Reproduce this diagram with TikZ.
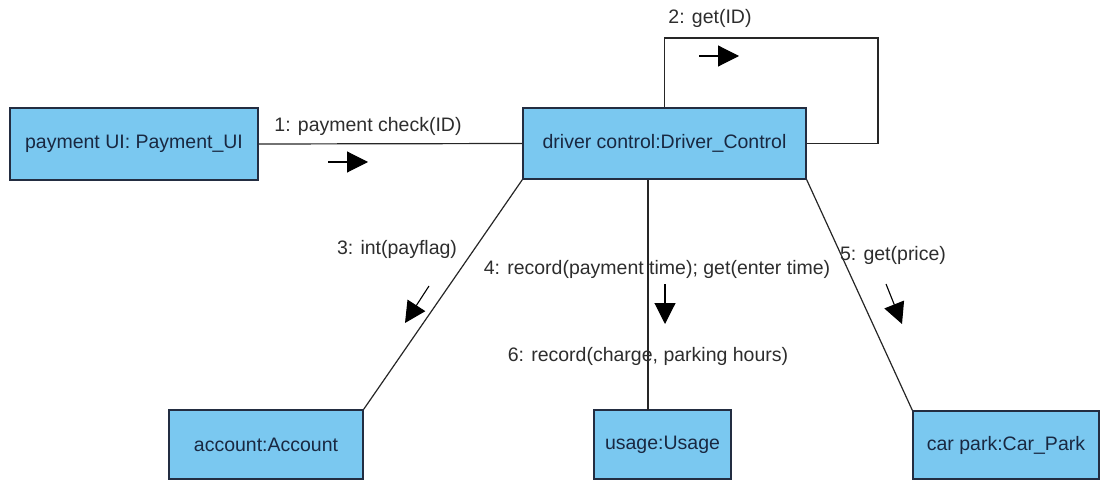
\documentclass[tikz,border=0pt]{standalone}
\usepackage{fontspec}
\setmainfont{Liberation Sans}
\usetikzlibrary{arrows.meta}
\definecolor{boxfill}{RGB}{122,200,240}
\definecolor{boxline}{RGB}{35,45,65}
\definecolor{boxtext}{RGB}{25,40,65}
\definecolor{labtext}{RGB}{45,45,45}
\tikzset{
  obj/.style={draw=boxline, line width=1.3pt, fill=boxfill, text=boxtext, inner sep=0pt,
    font=\fontsize{19.5}{23}\selectfont},
  link/.style={draw=black!85, line width=1.2pt},
  msg/.style={draw=black, line width=1.1pt, -{Triangle[length=21pt,width=21pt]}},
  lab/.style={text=labtext, inner sep=0pt, font=\fontsize{19.5}{23}\selectfont}
}
\begin{document}
\begin{tikzpicture}[x=1pt,y=-1pt]
\useasboundingbox (0,0) rectangle (1100,481);
% objects
\node[obj, minimum width=248pt, minimum height=72pt] (pay) at (134,144) {payment UI: Payment\_UI};
\node[obj, minimum width=283pt, minimum height=71pt] (drv) at (664.5,143.5) {driver control:Driver\_Control};
\node[obj, minimum width=194pt, minimum height=69pt] (acc) at (266,444.5) {account:Account};
\node[obj, minimum width=137pt, minimum height=69pt] (use) at (662.5,444.5) {usage:Usage};
\node[obj, minimum width=186pt, minimum height=68pt] (car) at (1006,445) {car park:Car\_Park};
% links
\draw[link] (pay.east) -- (drv.west);
\coordinate (loopc) at (878,38);
\draw[link] (drv.north) |- (loopc) |- (drv.east);
\draw[link] (drv.south west) -- (acc.north east);
\coordinate (useline) at (648,410);
\draw[link] (useline) -- (useline |- drv.south);
\draw[link] (drv.south east) -- (car.north west);
% message arrows
\coordinate (m1a) at (328,162); \coordinate (m1b) at (368,162);
\coordinate (m2a) at (699,56);  \coordinate (m2b) at (739,56);
\coordinate (m3a) at (429,286); \coordinate (m3b) at (405,323);
\coordinate (m4a) at (665,284); \coordinate (m4b) at (665,324);
\coordinate (m5a) at (886,284); \coordinate (m5b) at (902,324);
\draw[msg] (m1a) -- (m1b);
\draw[msg] (m2a) -- (m2b);
\draw[msg] (m3a) -- (m3b);
\draw[msg] (m4a) -- (m4b);
\draw[msg] (m5a) -- (m5b);
% labels
\node[lab] (l1) at (368,126) {1: payment check(ID)};
\node[lab] (l2) at (710,18) {2: get(ID)};
\node[lab] (l3) at (397,249) {3: int(payflag)};
\node[lab] (l4) at (657,269) {4: record(payment time); get(enter time)};
\node[lab] (l5) at (893,255) {5: get(price)};
\node[lab] (l6) at (648,356) {6: record(charge, parking hours)};
\end{tikzpicture}
\end{document}
